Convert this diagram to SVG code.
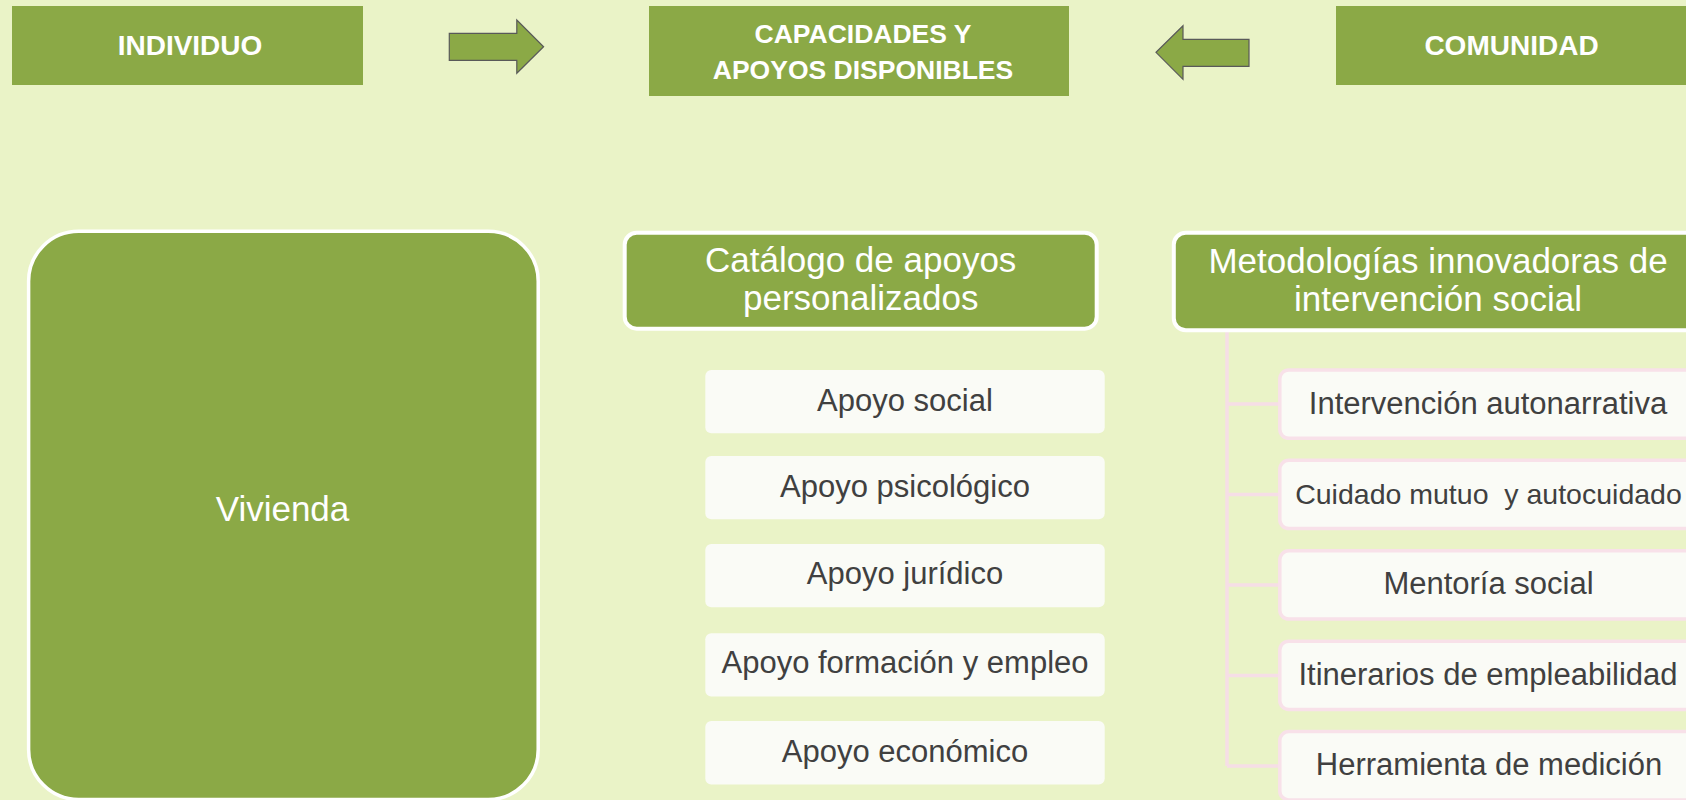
<svg xmlns="http://www.w3.org/2000/svg" width="1686" height="800" viewBox="0 0 1686 800">
<style>
.top{fill:#8BA946}
.toptxt{font-family:"Liberation Sans",Arial,sans-serif;font-weight:bold;fill:#FFFFFF;text-anchor:middle}
.arrow{fill:#8BA946;stroke:#595959;stroke-width:1.2}
.hdr{fill:#8BA946;stroke:#FFFFFF;stroke-width:4}
.hdrtxt{font-family:"Liberation Sans",Arial,sans-serif;font-size:35px;fill:#FFFFFF;text-anchor:middle}
.item{fill:#FAFBF6}
.itemR{fill:#FAFBF6;stroke:#F8E1E9;stroke-width:3.5}
.itemtxt{font-family:"Liberation Sans",Arial,sans-serif;font-size:31px;fill:#404040;text-anchor:middle;white-space:pre}
.conn{stroke:#F6DEE6;stroke-width:3.5;fill:none}
</style>
<rect x="0" y="0" width="1686" height="800" fill="#EAF3C7"/>

<g id="individuo">
<rect class="top" x="12" y="6" width="351" height="79"/>
<text class="toptxt" x="190" y="55" style="font-size:28px">INDIVIDUO</text>
</g>
<g id="capacidades">
<rect class="top" x="649" y="6" width="420" height="90"/>
<text class="toptxt" x="863" y="42.5" style="font-size:26.5px">CAPACIDADES Y</text>
<text class="toptxt" x="863" y="79" style="font-size:26.5px">APOYOS DISPONIBLES</text>
</g>
<g id="comunidad">
<rect class="top" x="1336" y="6" width="351" height="79"/>
<text class="toptxt" x="1511.5" y="55" style="font-size:28px">COMUNIDAD</text>
</g>

<g id="connectors">
<polygon class="arrow" points="449.3,33.3 516.8,33.3 516.8,20 543.6,46.7 516.8,73.3 516.8,60.3 449.3,60.3"/>
<polygon class="arrow" points="1249,39.3 1183,39.3 1183,25.7 1156,52.3 1183,79.3 1183,66.3 1249,66.3"/>
<path class="conn" d="M1227,332 V766 M1227,404 H1279 M1227,494.5 H1279 M1227,585 H1279 M1227,675.5 H1279 M1227,766 H1279"/>
</g>

<g id="vivienda">
<rect x="28.6" y="231.3" width="509.6" height="568.2" rx="50" fill="#8BA946" stroke="#FFFFFF" stroke-width="3.5"/>
<text class="hdrtxt" x="282.5" y="520.5">Vivienda</text>
</g>

<g id="catalogo">
<rect class="hdr" x="624.7" y="232.7" width="472" height="96" rx="12"/>
<text class="hdrtxt" x="860.7" y="272">Catálogo de apoyos</text>
<text class="hdrtxt" x="860.7" y="310.3">personalizados</text>
</g>
<g id="apoyo-social">
<rect class="item" x="705.3" y="370" width="399.4" height="63.3" rx="6"/>
<text class="itemtxt" x="905" y="410.5">Apoyo social</text>
</g>
<g id="apoyo-psicologico">
<rect class="item" x="705.3" y="456" width="399.4" height="63.3" rx="6"/>
<text class="itemtxt" x="905" y="496.5">Apoyo psicológico</text>
</g>
<g id="apoyo-juridico">
<rect class="item" x="705.3" y="544" width="399.4" height="63.3" rx="6"/>
<text class="itemtxt" x="905" y="583.5">Apoyo jurídico</text>
</g>
<g id="apoyo-formacion">
<rect class="item" x="705.3" y="633.3" width="399.4" height="63.3" rx="6"/>
<text class="itemtxt" x="905" y="673">Apoyo formación y empleo</text>
</g>
<g id="apoyo-economico">
<rect class="item" x="705.3" y="721" width="399.4" height="63.5" rx="6"/>
<text class="itemtxt" x="905" y="761.5">Apoyo económico</text>
</g>

<g id="metodologias">
<rect class="hdr" x="1173.8" y="232.7" width="540" height="97.6" rx="12"/>
<text class="hdrtxt" x="1438" y="273">Metodologías innovadoras de</text>
<text class="hdrtxt" x="1438" y="310.7">intervención social</text>
</g>
<g id="intervencion">
<rect class="itemR" x="1279.8" y="370" width="440" height="68.3" rx="9"/>
<text class="itemtxt" x="1488" y="414">Intervención autonarrativa</text>
</g>
<g id="cuidado">
<rect class="itemR" x="1279.8" y="460.3" width="440" height="68.3" rx="9"/>
<text class="itemtxt" x="1488.5" y="504" style="font-size:28.5px">Cuidado mutuo  y autocuidado</text>
</g>
<g id="mentoria">
<rect class="itemR" x="1279.8" y="550.8" width="440" height="68.3" rx="9"/>
<text class="itemtxt" x="1488.5" y="594.3">Mentoría social</text>
</g>
<g id="itinerarios">
<rect class="itemR" x="1279.8" y="641.2" width="440" height="68.3" rx="9"/>
<text class="itemtxt" x="1488" y="684.7">Itinerarios de empleabilidad</text>
</g>
<g id="herramienta">
<rect class="itemR" x="1279.8" y="731.6" width="440" height="68.3" rx="9"/>
<text class="itemtxt" x="1489" y="775">Herramienta de medición</text>
</g>
</svg>
